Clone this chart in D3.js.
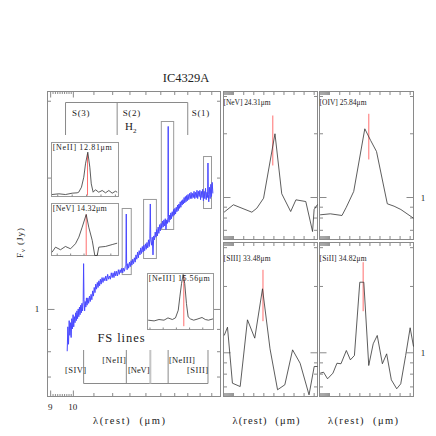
<!DOCTYPE html>
<html>
<head>
<meta charset="utf-8">
<title>IC4329A</title>
<script src="https://d3js.org/d3.v7.min.js"></script>
<style>
  body { margin: 0; background: #fff; }
  text { font-family: "Liberation Serif", "DejaVu Serif", serif; fill: #222; }
</style>
</head>
<body>
<div id="chart"></div>
<script>
// ---- data ----
// SH spectrum [lambda(um), Fnu(Jy)]
var shSpectrum = [
  [9.74,0.80],[9.77,0.91],[9.80,0.83],[9.83,0.94],[9.86,0.87],[9.89,0.93],[9.92,0.86],[9.95,0.95],[9.98,0.90],
  [10.01,0.97],[10.04,0.91],[10.07,0.96],[10.10,0.93],[10.13,0.98],[10.16,0.94],[10.19,0.99],[10.22,0.95],
  [10.25,1.00],[10.28,0.96],[10.31,1.01],[10.34,0.97],[10.37,1.02],[10.40,0.98],[10.43,1.03],[10.46,0.99],
  [10.49,1.04],[10.51,1.27],[10.53,1.05],[10.56,0.99],[10.59,1.04],[10.62,1.01],[10.65,1.06],[10.68,1.02],
  [10.72,1.06],[10.76,1.03],[10.80,1.07],[10.84,1.04],[10.88,1.08],[10.92,1.05],[10.96,1.10],[11.00,1.07],
  [11.04,1.12],[11.08,1.09],[11.12,1.14],[11.16,1.11],[11.20,1.15],[11.24,1.12],[11.28,1.16],[11.32,1.13],
  [11.36,1.17],[11.40,1.14],[11.45,1.18],[11.50,1.15],[11.55,1.18],[11.60,1.16],[11.65,1.19],[11.70,1.16],
  [11.75,1.20],[11.80,1.17],[11.85,1.19],[11.90,1.17],[11.95,1.21],[12.00,1.18],[12.05,1.21],[12.10,1.18],
  [12.15,1.22],[12.20,1.19],[12.25,1.22],[12.30,1.19],[12.35,1.23],[12.40,1.20],[12.45,1.23],[12.50,1.21],
  [12.55,1.24],[12.60,1.21],[12.65,1.24],[12.70,1.22],[12.75,1.25],[12.79,1.26],[12.81,1.65],[12.83,1.27],
  [12.86,1.23],[12.90,1.27],[12.95,1.24],[13.00,1.28],[13.05,1.25],[13.10,1.29],[13.15,1.26],[13.20,1.30],
  [13.25,1.27],[13.30,1.31],[13.35,1.28],[13.40,1.33],[13.45,1.30],[13.50,1.35],[13.55,1.31],[13.60,1.36],
  [13.65,1.33],[13.70,1.38],[13.75,1.34],[13.80,1.39],[13.85,1.35],[13.90,1.40],[13.95,1.36],[14.00,1.41],
  [14.05,1.37],[14.10,1.42],[14.15,1.38],[14.20,1.44],[14.25,1.39],[14.29,1.45],[14.32,1.74],[14.35,1.44],
  [14.40,1.40],[14.45,1.46],[14.50,1.33],[14.55,1.47],[14.60,1.44],[14.65,1.50],[14.70,1.46],[14.75,1.52],
  [14.80,1.47],[14.85,1.54],[14.90,1.49],[14.95,1.56],[15.00,1.51],[15.05,1.57],[15.10,1.53],[15.15,1.59],
  [15.20,1.54],[15.25,1.60],[15.30,1.55],[15.35,1.61],[15.40,1.52],[15.45,1.60],[15.50,1.57],[15.54,1.62],
  [15.56,2.62],[15.58,1.63],[15.62,1.58],[15.66,1.64],[15.70,1.60],[15.75,1.66],[15.80,1.61],[15.85,1.67],
  [15.90,1.63],[15.95,1.69],[16.00,1.64],[16.05,1.70],[16.10,1.65],[16.15,1.71],[16.20,1.67],[16.25,1.73],
  [16.30,1.68],[16.35,1.74],[16.40,1.70],[16.45,1.76],[16.50,1.71],[16.55,1.77],[16.60,1.73],[16.65,1.78],
  [16.70,1.74],[16.75,1.80],[16.80,1.75],[16.85,1.81],[16.90,1.76],[16.95,1.82],[17.00,1.77],[17.06,1.83],
  [17.12,1.78],[17.18,1.84],[17.24,1.79],[17.30,1.85],[17.36,1.79],[17.42,1.84],[17.48,1.80],[17.54,1.86],
  [17.60,1.79],[17.66,1.85],[17.72,1.80],[17.78,1.87],[17.84,1.79],[17.90,1.86],[17.96,1.81],[18.02,1.87],
  [18.08,1.78],[18.14,1.86],[18.20,1.80],[18.26,1.88],[18.32,1.77],[18.38,1.86],[18.44,1.79],[18.50,1.89],
  [18.56,1.78],[18.62,1.85],[18.68,1.80],[18.71,2.16],[18.74,1.83],[18.78,1.76],[18.84,1.90],[18.90,1.79],
  [18.96,1.93],[19.02,1.81],[19.08,1.95],[19.14,1.84]
];

// boxes marking the zoomed lines on the SH spectrum
var boxWaveLo = [12.57, 13.88, 15.07, 18.33];
var boxWaveHi = [13.11, 14.73, 15.96, 19.02];
var boxFluxLo = [1.199, 1.305, 1.521, 1.699];
var boxFluxHi = [1.699, 1.782, 2.689, 2.235];

// H2 and fine-structure line markers
var h2Wave = [9.665, 12.279, 17.035];
var h2Labels = ["S(3)", "S(2)", "S(1)"];
var fsWave = [10.511, 12.814, 14.322, 15.555, 18.713];
var fsLabels = ["[SIV]", "[NeII]", "[NeV]", "[NeIII]", "[SIII]"];

// insets inside the SH panel
var ins1Label = "[NeII] 12.81\u03bcm";
var ins1Wave = [12.563,12.611,12.657,12.704,12.738,12.749,12.768,12.784,12.796,12.812,12.826,12.836,12.849,12.865,12.888,12.912,12.935,12.958,12.981,13.004,13.016];
var ins1Flux = [1.256,1.262,1.256,1.267,1.270,1.275,1.316,1.397,1.506,1.601,1.479,1.343,1.275,1.295,1.275,1.289,1.270,1.289,1.267,1.283,1.275];
var ins2Label = "[NeV] 14.32\u03bcm";
var ins2Wave = [14.065,14.091,14.128,14.165,14.203,14.240,14.265,14.290,14.320,14.339,14.365,14.384,14.402,14.414,14.464,14.514,14.551];
var ins2Flux = [1.444,1.481,1.462,1.486,1.469,1.506,1.554,1.627,1.720,1.627,1.530,1.420,1.420,1.481,1.486,1.500,1.510];
var ins3Label = "[NeIII] 15.56\u03bcm";
var ins3Wave = [15.290,15.335,15.372,15.410,15.440,15.473,15.497,15.518,15.530,15.543,15.555,15.567,15.580,15.593,15.610,15.635,15.660,15.698,15.723,15.747,15.781];
var ins3Flux = [1.783,1.769,1.796,1.783,1.828,1.796,1.828,1.979,2.240,2.504,2.680,2.504,2.111,1.848,1.808,1.783,1.802,1.836,1.796,1.783,1.808];
var insCenter = [12.81, 14.32, 15.56];
var insWaveLo = [12.56, 14.061, 15.285];
var insWaveHi = [13.025, 14.561, 15.785];
var insFluxLo = [1.24, 1.42, 1.60];
var insFluxHi = [1.68, 1.80, 2.70];
var insRedLo = [1.248, 1.42, 1.665];
var insRedHi = [1.588, 1.72, 2.667];

// LH panels
var panelLabels = ["[NeV] 24.31\u03bcm", "[OIV] 25.84\u03bcm", "[SIII] 33.48\u03bcm", "[SiII] 34.82\u03bcm"];
var panelCenter = [24.31, 25.84, 33.48, 34.82];
var panelWaveLo = [24.15, 25.68, 33.312, 34.625];
var panelWaveHi = [24.455, 25.985, 33.712, 35.045];
var panelRedLo = [1.409, 1.504, 1.384, 1.536];
var panelRedHi = [2.426, 2.472, 2.368, 2.564];
var panAWave = [24.152,24.182,24.242,24.258,24.280,24.317,24.339,24.368,24.385,24.417,24.439,24.444,24.455];
var panAFlux = [0.848,0.919,0.848,0.885,0.987,1.989,1.036,0.854,0.970,0.952,0.687,0.873,0.922];
var panBWave = [25.682,25.715,25.753,25.767,25.791,25.827,25.846,25.865,25.900,25.922,25.944,25.985];
var panBFlux = [0.824,0.833,0.818,0.895,1.062,2.100,1.849,1.640,0.929,0.905,0.873,0.794];
var panCWave = [33.315,33.329,33.350,33.383,33.414,33.445,33.478,33.510,33.542,33.573,33.606,33.638,33.676,33.698,33.712];
var panCFlux = [1.192,1.300,0.724,0.699,1.404,1.159,1.942,1.037,0.676,0.712,1.026,0.892,0.641,0.862,0.862];
var panDWave = [34.628,34.643,34.661,34.685,34.703,34.721,34.745,34.763,34.781,34.805,34.823,34.845,34.865,34.883,34.906,34.925,34.946,34.970,34.988,35.010,35.030,35.045];
var panDFlux = [0.804,0.812,0.758,0.804,0.892,0.887,1.019,0.924,0.967,2.080,2.080,0.871,1.093,1.192,0.887,0.984,0.750,0.683,0.719,0.967,1.292,1.062];

// flux axis (shared by all panels)
var fluxDomain = [0.63, 3.15];
var fluxMinorTicks = [0.7, 0.8, 0.9, 2, 3];
var fluxMajorTicks = [1];
var waveMinorTicks = [9.1, 9.2, 9.3, 9.4, 9.5, 9.6, 9.7, 9.8, 9.9];
var waveMidTicks = [11, 12, 13, 14, 15, 16, 17, 18, 19];
var waveMajorTicks = [9, 10];

// ---- drawing ----
var frameCol = "#8a8a8a";
var svg = d3.select("#chart").append("svg").attr("width", 436).attr("height", 436);

function clean(sel) {
  sel.select(".domain").remove();
  sel.selectAll("line").attr("stroke", frameCol);
}

// text helper: PGPLOT glyphs are spaced wide, so spread to the measured width
function label(x, y, str, size, width, anchor) {
  return svg.append("text").attr("x", x).attr("y", y).attr("font-size", size)
    .attr("text-anchor", anchor || "start")
    .attr("textLength", width).attr("lengthAdjust", "spacing")
    .attr("xml:space", "preserve").style("white-space", "pre").text(str);
}

function drawFrame(x, y, xSets, ySets) {
  var xr = x.range(), yr = y.range();
  var g = svg.append("g");
  g.append("rect").attr("x", xr[0]).attr("y", yr[1]).attr("width", xr[1] - xr[0]).attr("height", yr[0] - yr[1])
    .attr("fill", "none").attr("stroke", frameCol);
  xSets.forEach(function(s) {
    g.append("g").attr("transform", "translate(0," + yr[1] + ")")
      .call(d3.axisBottom(x).tickValues(s.v).tickSize(s.len).tickFormat("")).call(clean);
    g.append("g").attr("transform", "translate(0," + yr[0] + ")")
      .call(d3.axisTop(x).tickValues(s.v).tickSize(s.len).tickFormat("")).call(clean);
  });
  ySets.forEach(function(s) {
    g.append("g").attr("transform", "translate(" + xr[0] + ",0)")
      .call(d3.axisRight(y).tickValues(s.v).tickSize(s.len).tickFormat("")).call(clean);
    g.append("g").attr("transform", "translate(" + xr[1] + ",0)")
      .call(d3.axisLeft(y).tickValues(s.v).tickSize(s.len).tickFormat("")).call(clean);
  });
  return g;
}

// main SH panel
var xMain = d3.scaleLog().domain([8.89, 19.83]).range([47.5, 220.5]);
var yMain = d3.scaleLog().domain(fluxDomain).range([396.5, 91.5]);
drawFrame(xMain, yMain,
  [{v: waveMinorTicks, len: 2.5}, {v: waveMidTicks, len: 3.5}, {v: waveMajorTicks, len: 6}],
  [{v: fluxMinorTicks, len: 3.5}, {v: fluxMajorTicks, len: 7}]);

// boxes around the lines
svg.append("g").selectAll("rect").data(boxWaveLo).enter().append("rect")
  .attr("x", function(d, i) { return xMain(boxWaveLo[i]); })
  .attr("y", function(d, i) { return yMain(boxFluxHi[i]); })
  .attr("width", function(d, i) { return xMain(boxWaveHi[i]) - xMain(boxWaveLo[i]); })
  .attr("height", function(d, i) { return yMain(boxFluxLo[i]) - yMain(boxFluxHi[i]); })
  .attr("fill", "none").attr("stroke", "#9a9a9a").attr("stroke-width", 1);

// spectrum
svg.append("path").datum(shSpectrum)
  .attr("d", d3.line().x(function(d) { return xMain(d[0]); }).y(function(d) { return yMain(d[1]); }))
  .attr("fill", "none").attr("stroke", "#4848ff").attr("stroke-width", 1);

// H2 bracket
var h2Y = 102.5, h2Bot = 135;
svg.append("line").attr("x1", xMain(h2Wave[0])).attr("x2", xMain(h2Wave[2])).attr("y1", h2Y).attr("y2", h2Y)
  .attr("stroke", frameCol);
svg.append("g").selectAll("line").data(h2Wave).enter().append("line")
  .attr("x1", function(d) { return xMain(d); }).attr("x2", function(d) { return xMain(d); })
  .attr("y1", h2Y).attr("y2", h2Bot).attr("stroke", frameCol);
var h2Dx = [6.5, 5.5, 4];
h2Wave.forEach(function(w, i) {
  label(xMain(w) + h2Dx[i], 115.5, h2Labels[i], 9, 17.5);
});
var h2t = svg.append("text").attr("x", 125).attr("y", 130).attr("font-size", 11);
h2t.append("tspan").text("H");
h2t.append("tspan").attr("font-size", 7).attr("dy", 2.5).text("2");

// FS lines bracket
var fsY = 383.5, fsTop = 350;
svg.append("line").attr("x1", xMain(fsWave[0])).attr("x2", xMain(fsWave[4])).attr("y1", fsY).attr("y2", fsY)
  .attr("stroke", frameCol);
svg.append("g").selectAll("line").data(fsWave).enter().append("line")
  .attr("x1", function(d) { return xMain(d); }).attr("x2", function(d) { return xMain(d); })
  .attr("y1", fsTop).attr("y2", fsY)
  .attr("stroke", function(d, i) { return i == 2 ? "#c4c4c4" : frameCol; })
  .attr("stroke-width", function(d, i) { return i == 2 ? 2 : 1; });
var fsDx = [2.5, -0.5, -0.8, 0.8, 0];
var fsDy = [373, 363, 373, 363, 373];
var fsW = [21, 23.5, 21.5, 26, 21];
var fsAnchor = ["end", "end", "end", "start", "end"];
fsWave.forEach(function(w, i) {
  label(xMain(w) + fsDx[i], fsDy[i], fsLabels[i], 8.5, fsW[i], fsAnchor[i]);
});
label(121, 341.5, "FS lines", 12.5, 47, "middle");

// insets
var insBoxes = [[51, 118, 142, 196], [51, 118, 203, 255], [147, 213, 273, 329]];
var insWaves = [ins1Wave, ins2Wave, ins3Wave];
var insFluxes = [ins1Flux, ins2Flux, ins3Flux];
var insLabels = [ins1Label, ins2Label, ins3Label];
var insLabelW = [59, 54, 61];
insBoxes.forEach(function(b, k) {
  var x = d3.scaleLinear().domain([insWaveLo[k], insWaveHi[k]]).range([b[0] + 0.5, b[1] + 0.5]);
  var y = d3.scaleLinear().domain([insFluxLo[k], insFluxHi[k]]).range([b[3] + 0.5, b[2] + 0.5]);
  svg.append("rect").attr("x", b[0] + 0.5).attr("y", b[2] + 0.5).attr("width", b[1] - b[0]).attr("height", b[3] - b[2])
    .attr("fill", "#fff").attr("stroke", "#9a9a9a");
  var g = svg.append("g");
  g.append("g").attr("transform", "translate(0," + (b[3] + 0.5) + ")")
    .call(d3.axisTop(x).tickValues(d3.range(Math.ceil(insWaveLo[k] * 10) / 10, insWaveHi[k], 0.1)).tickSize(2).tickFormat(""))
    .call(clean);
  g.append("line").attr("x1", x(insCenter[k])).attr("x2", x(insCenter[k]))
    .attr("y1", y(insRedLo[k])).attr("y2", y(insRedHi[k])).attr("stroke", "#ff6e6e").attr("stroke-width", 1);
  var pts = insWaves[k].map(function(w, i) { return [w, insFluxes[k][i]]; });
  g.append("path").datum(pts)
    .attr("d", d3.line().x(function(d) { return x(d[0]); }).y(function(d) { return y(d[1]); }))
    .attr("fill", "none").attr("stroke", "#333").attr("stroke-width", 0.8);
  label(b[0] + 1.8, b[2] + 8, insLabels[k], 8, insLabelW[k]);
});

// LH panels
var panelBoxes = [[223, 317, 91, 239], [319, 413, 91, 239], [223, 317, 242, 396], [319, 413, 242, 396]];
var panelWaves = [panAWave, panBWave, panCWave, panDWave];
var panelFluxes = [panAFlux, panBFlux, panCFlux, panDFlux];
var panelLabelY = [105, 105, 261, 261];
panelBoxes.forEach(function(b, k) {
  var lo = panelWaveLo[k], hi = panelWaveHi[k], span = hi - lo;
  var x = d3.scaleLinear().domain([lo, hi]).range([b[0] + 0.5, b[1] + 0.5]);
  var y = d3.scaleLog().domain(fluxDomain).range([b[3] + 0.5, b[2] + 0.5]);
  drawFrame(x, y,
    [{v: d3.range(lo, lo + span * 0.11, span / 90), len: 3.5}, {v: d3.range(lo + span * 0.21, hi, span * 0.107), len: 3.5}],
    [{v: fluxMinorTicks, len: 3.5}, {v: fluxMajorTicks, len: 7}]);
  svg.append("line").attr("x1", x(panelCenter[k])).attr("x2", x(panelCenter[k]))
    .attr("y1", y(panelRedLo[k])).attr("y2", y(panelRedHi[k])).attr("stroke", "#ff6e6e").attr("stroke-width", 1);
  var pts = panelWaves[k].map(function(w, i) { return [w, panelFluxes[k][i]]; });
  svg.append("path").datum(pts)
    .attr("d", d3.line().x(function(d) { return x(d[0]); }).y(function(d) { return y(d[1]); }))
    .attr("fill", "none").attr("stroke", "#333").attr("stroke-width", 0.8);
  label(b[0] + 0.5, panelLabelY[k], panelLabels[k], 7.5, 47);
  if (k % 2 == 1) {
    svg.append("text").attr("x", 423).attr("y", y(1) + 3.5).attr("text-anchor", "middle").attr("font-size", 9).text("1");
  }
});

// axis labels and title
svg.append("text").attr("x", 186).attr("y", 82).attr("text-anchor", "middle").attr("font-size", 12.5).text("IC4329A");
svg.append("text").attr("x", 37).attr("y", yMain(1) + 3.5).attr("text-anchor", "middle").attr("font-size", 9).text("1");
svg.append("g").selectAll("text").data(waveMajorTicks).enter().append("text")
  .attr("x", function(d) { return xMain(d); }).attr("y", 409.5).attr("text-anchor", "middle")
  .attr("font-size", 9).text(function(d) { return d; });
[[129, 72], [266, 67], [363, 70]].forEach(function(p) {
  label(p[0], 424, "\u03bb(rest)  (\u03bcm)", 10.5, p[1], "middle");
});
var yl = svg.append("text").attr("transform", "translate(23,243) rotate(-90)").attr("text-anchor", "middle")
  .attr("font-size", 9).attr("textLength", 30).attr("lengthAdjust", "spacing");
yl.append("tspan").text("F");
yl.append("tspan").attr("font-size", 6.5).attr("dy", 2).text("\u03bd");
yl.append("tspan").attr("dy", -2).attr("xml:space", "preserve").text(" (Jy)");
</script>
</body>
</html>
